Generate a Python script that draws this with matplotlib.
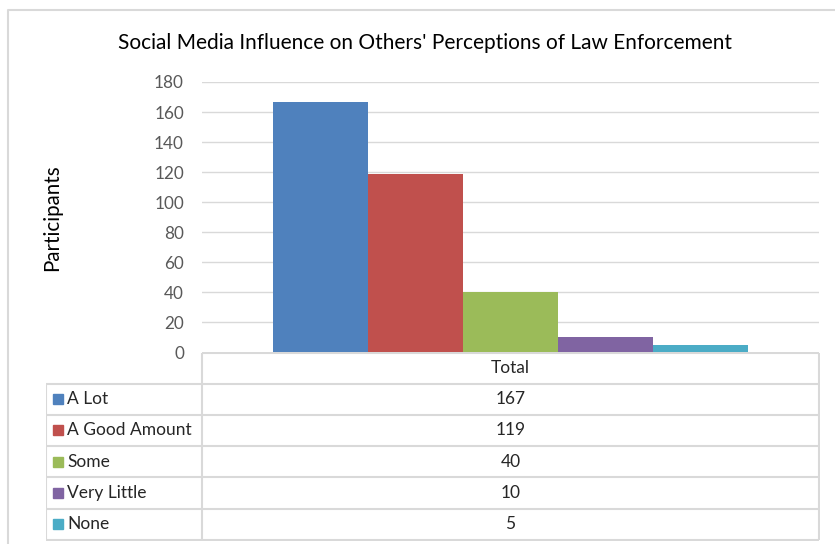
import matplotlib.pyplot as plt
import numpy as np

categories = ["A Lot", "A Good Amount", "Some", "Very Little", "None"]
counts = [167, 119, 40, 10, 5]
group_label = "Total"
colors = ["#4F81BD", "#C0504D", "#9BBB59", "#8064A2", "#4BACC6"]

W, H = 835, 544
plt.rcParams["font.family"] = ["Lato", "DejaVu Sans"]


def fig_rect(x0, y0, x1, y1):
    # pixel box (top-left origin) -> figure fraction rect
    return [x0 / W, (H - y1) / H, (x1 - x0) / W, (y1 - y0) / H]


fig = plt.figure(figsize=(W / 100, H / 100), dpi=100)

# chart frame
frame = fig.add_axes([0, 0, 1, 1])
frame.set_xlim(0, W)
frame.set_ylim(H, 0)
frame.axis("off")
frame.plot([8, 8, W + 5], [H + 5, 10, 10], color="#D9D9D9", lw=1.5)

fig.text(425 / W, 1 - 43 / H, "Social Media Influence on Others' Perceptions of Law Enforcement",
         ha="center", va="center", fontsize=15, color="#000000")

# bars
ax = fig.add_axes(fig_rect(202, 82, 819, 352.5))
n = len(counts)
bar_w = 1 / (n + 1.5)
x = 0.5 + (np.arange(n) - (n - 1) / 2) * bar_w
ax.bar(x, counts, width=bar_w, color=colors, zorder=3)
ax.set_xlim(0, 1)
ax.set_ylim(0, 180)
ax.set_yticks(np.arange(0, 181, 20))
ax.set_xticks([])
ax.grid(axis="y", color="#D9D9D9", lw=1, zorder=0)
for s in ax.spines.values():
    s.set_visible(False)
ax.tick_params(axis="y", length=0, pad=13, labelsize=12.3, labelcolor="#595959")
fig.text(52 / W, 1 - 218 / H, "Participants", rotation=90, ha="center", va="center",
         fontsize=14.8, color="#000000")

# data table under the axis
tab = fig.add_axes(fig_rect(46, 352, 820, 541))
tab.set_xlim(46, 820)
tab.set_ylim(541, 352)
tab.axis("off")
line_c = "#D9D9D9"
rows = [352.5, 383.5] + [383.5 + (540 - 383.5) / n * (i + 1) for i in range(n)]
tab.hlines(rows[0], 202, 819, color=line_c, lw=1.5)
tab.hlines(rows[1:], 46, 819, color=line_c, lw=1.5)
tab.vlines(202, rows[0], rows[-1], color=line_c, lw=1.5)
tab.vlines(819, rows[0], rows[-1], color=line_c, lw=1.5)
tab.vlines(46, rows[1], rows[-1], color=line_c, lw=1.5)
tab.text(510.5, (rows[0] + rows[1]) / 2, group_label, ha="center", va="center",
         fontsize=12.5, color="#262626")
for i, (cat, val, c) in enumerate(zip(categories, counts, colors)):
    yc = (rows[i + 1] + rows[i + 2]) / 2
    tab.add_patch(plt.Rectangle((53, yc - 5), 10, 10, color=c))
    tab.text(67, yc, cat, ha="left", va="center", fontsize=12.5, color="#262626")
    tab.text(510.5, yc, str(val), ha="center", va="center", fontsize=12.5, color="#262626")

fig.savefig("out.png", dpi=100)
